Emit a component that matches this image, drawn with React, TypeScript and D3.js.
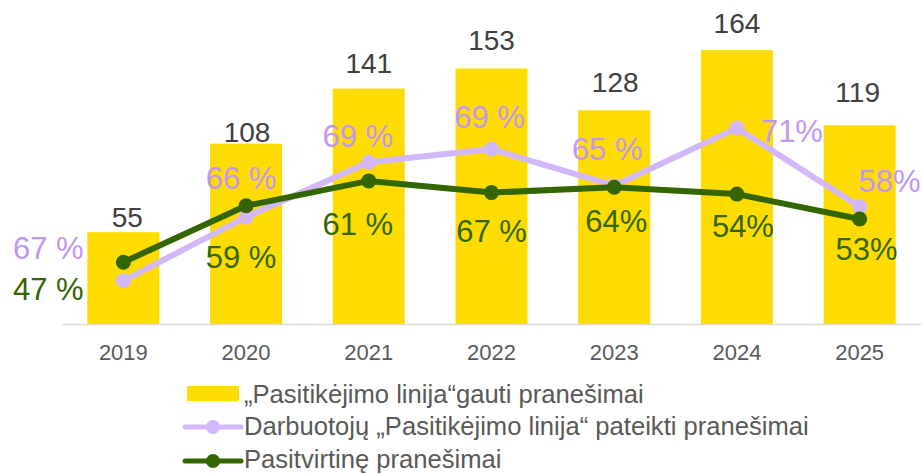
import * as d3 from "d3";

// data
const years = ["2019", "2020", "2021", "2022", "2023", "2024", "2025"];
const received = [55, 108, 141, 153, 128, 164, 119];
// line points (share, secondary axis 0-100)
const employeeShare = [14.4, 35.6, 53.9, 58.3, 46.1, 65.3, 39.1];
const confirmedShare = [20.6, 39.4, 47.7, 43.8, 45.6, 43.3, 35.0];
// labels as printed on the chart
const employeeLabels = ["67 %", "66 %", "69 %", "69 %", "65 %", "71%", "58%"];
const confirmedLabels = ["47 %", "59 %", "61 %", "67 %", "64%", "54%", "53%"];
const legendLabels = [
  "\u201ePasitik\u0117jimo linija\u201cgauti prane\u0161imai",
  "Darbuotoj\u0173 \u201ePasitik\u0117jimo linija\u201c pateikti prane\u0161imai",
  "Pasitvirtin\u0119 prane\u0161imai",
];

// hand placed label offsets (like the original chart)
const barLabelNudge = [[4, -5], [1, -2], [0, -16], [0, -18], [1, -18], [0, -17], [-2, -23]];
const employeeNudge = [[-75, -22], [-5, -28], [-11, -15], [-2, -21], [-7, -26], [55, 14], [30, -15]];
const confirmedNudge = [[-75, 38], [-5, 62], [-11, 54], [0, 49], [2, 45], [6, 43], [7, 41]];

const W = 922;
const H = 474;
const FONT = "'Liberation Sans', Arial, sans-serif";
const YELLOW = "#FFDC00";
const PURPLE = "#D2B7FB";
const PURPLE_TXT = "#C096F6";
const GREEN = "#336600";

export default function App() {
  const x = d3.scaleBand().domain(years).range([62, 921]).paddingInner(0.413).paddingOuter(0.2065);
  const y = d3.scaleLinear().domain([0, 180]).range([324, 23.4]);
  const y2 = d3.scaleLinear().domain([0, 100]).range([324, 24]);
  const cx = (i: number) => (x(years[i]) as number) + x.bandwidth() / 2;

  const line = d3
    .line<number>()
    .x((_, i) => cx(i))
    .y((d) => y2(d));

  return (
    <svg width={W} height={H} style={{ position: "absolute", left: 0, top: 0, display: "block" }} fontFamily={FONT}>
      <rect width={W} height={H} fill="#fff" />

      {/* bars */}
      {received.map((v, i) => (
        <rect key={years[i]} x={x(years[i])} y={y(v)} width={x.bandwidth()} height={y(0) - y(v)} fill={YELLOW} />
      ))}

      {/* category axis */}
      <line x1={62} x2={921} y1={y(0) + 0.5} y2={y(0) + 0.5} stroke="#D9D9D9" strokeWidth={1.5} />
      {years.map((yr, i) => (
        <text key={yr} x={cx(i)} y={360} textAnchor="middle" fontSize={22} fill="#595959">
          {yr}
        </text>
      ))}

      {/* lines */}
      <path d={line(employeeShare) ?? ""} fill="none" stroke={PURPLE} strokeWidth={6} strokeLinejoin="round" />
      {employeeShare.map((v, i) => (
        <circle key={"p" + i} cx={cx(i)} cy={y2(v)} r={7.5} fill={PURPLE} />
      ))}
      <path d={line(confirmedShare) ?? ""} fill="none" stroke={GREEN} strokeWidth={6} strokeLinejoin="round" />
      {confirmedShare.map((v, i) => (
        <circle key={"g" + i} cx={cx(i)} cy={y2(v)} r={7.5} fill={GREEN} />
      ))}

      {/* bar value labels */}
      {received.map((v, i) => (
        <text
          key={"bl" + i}
          x={cx(i) + barLabelNudge[i][0]}
          y={y(v) + barLabelNudge[i][1]}
          textAnchor="middle"
          fontSize={28}
          fill="#404040"
        >
          {v}
        </text>
      ))}

      {/* line labels */}
      {employeeLabels.map((t, i) => (
        <text
          key={"pl" + i}
          x={cx(i) + employeeNudge[i][0]}
          y={y2(employeeShare[i]) + employeeNudge[i][1]}
          textAnchor="middle"
          fontSize={31}
          fill={PURPLE_TXT}
        >
          {t}
        </text>
      ))}
      {confirmedLabels.map((t, i) => (
        <text
          key={"gl" + i}
          x={cx(i) + confirmedNudge[i][0]}
          y={y2(confirmedShare[i]) + confirmedNudge[i][1]}
          textAnchor="middle"
          fontSize={31}
          fill={GREEN}
        >
          {t}
        </text>
      ))}

      {/* legend */}
      <g fontSize={25.6} fill="#595959">
        <rect x={187} y={386} width={52} height={15} fill={YELLOW} />
        <text x={244} y={403}>{legendLabels[0]}</text>

        <line x1={185} x2={241} y1={427} y2={427} stroke={PURPLE} strokeWidth={5} strokeLinecap="round" />
        <circle cx={213} cy={427} r={7} fill={PURPLE} />
        <text x={244} y={435}>{legendLabels[1]}</text>

        <line x1={185} x2={241} y1={461} y2={461} stroke={GREEN} strokeWidth={5} strokeLinecap="round" />
        <circle cx={213} cy={461} r={7} fill={GREEN} />
        <text x={244} y={468}>{legendLabels[2]}</text>
      </g>
    </svg>
  );
}
